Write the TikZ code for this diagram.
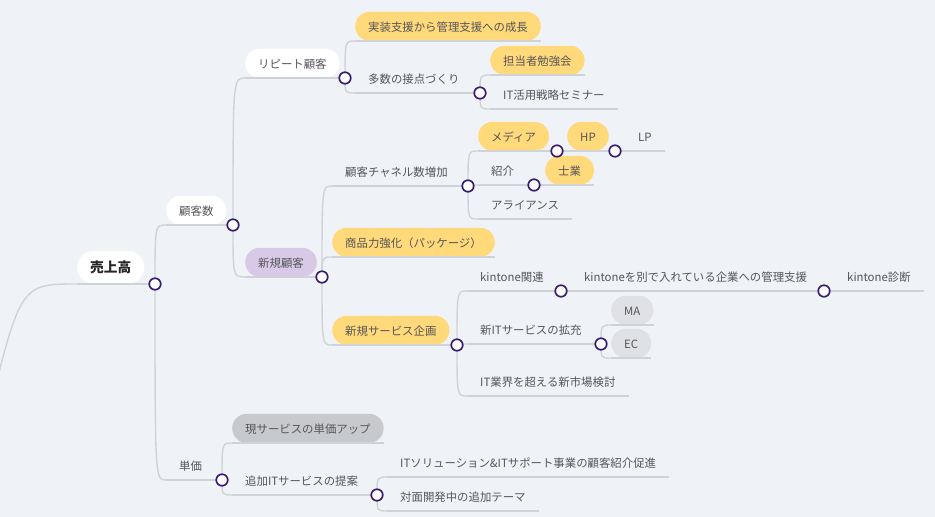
\documentclass[tikz,border=0pt]{standalone}
\usepackage{fontspec}
\usepackage{tikz}
\newfontfamily\jpfont{Noto Sans CJK JP}
\definecolor{canvas}{RGB}{239,243,248}
\definecolor{twiggray}{RGB}{207,211,216}
\definecolor{knotpurple}{RGB}{58,28,110}
\definecolor{pillyellow}{RGB}{255,217,122}
\definecolor{pilllilac}{RGB}{216,202,230}
\definecolor{pillgray}{RGB}{200,201,204}
\definecolor{pillpale}{RGB}{223,225,228}
\definecolor{inkgray}{RGB}{85,85,90}
\definecolor{inkdark}{RGB}{38,38,40}
\tikzset{
  topic/.style={anchor=south west, font=\jpfont\fontsize{11.4}{13}\selectfont,
    text=inkgray, inner xsep=13pt, inner ysep=0pt, minimum height=29pt,
    text height=11pt, text depth=1pt, rounded corners=14.5pt},
  roottopic/.style={topic, font=\jpfont\bfseries\fontsize{13.7}{16}\selectfont,
    text=inkdark, minimum height=33pt, rounded corners=16.5pt, fill=white},
  whitepill/.style={fill=white},
  yellowpill/.style={fill=pillyellow},
  lilacpill/.style={fill=pilllilac},
  graypill/.style={fill=pillgray},
  palepill/.style={fill=pillpale},
  twig/.style={draw=twiggray, line width=1.4pt},
  knot/.style={circle, draw=knotpurple, fill=white, line width=1.7pt,
    minimum size=11.5pt, inner sep=0pt}
}
\newcommand{\branch}[2]{%
  \draw[twig] (#1) .. controls (#1 |- #2.south west) .. (#2.south west);%
}
\newcommand{\underl}[2]{%
  \draw[twig] (#1.south west) -- (#2);%
}

\begin{document}
\begin{tikzpicture}[x=1pt,y=-1pt]
  \useasboundingbox (0,0) rectangle (935,517);
  \clip (0,0) rectangle (935,517);
  \fill[canvas] (0,0) rectangle (935,517);

  \node[roottopic] (uri) at (77,284) {売上高};
  \node[topic, whitepill] (kyaku) at (166,225) {顧客数};
  \node[topic] (tanka) at (166,480) {単価};
  \node[topic, whitepill] (repeat) at (245,78) {リピート顧客};
  \node[topic, lilacpill] (shinki) at (245,277) {新規顧客};
  \node[topic, yellowpill] (jisso) at (355,41) {実装支援から管理支援への成長};
  \node[topic] (setten) at (355,93) {多数の接点づくり};
  \node[topic, yellowpill] (benkyo) at (490,75) {担当者勉強会};
  \node[topic] (seminar) at (490,109) {IT活用戦略セミナー};
  \node[topic] (channel) at (332,186) {顧客チャネル数増加};
  \node[topic, yellowpill] (shohin) at (332,257) {商品力強化（パッケージ）};
  \node[topic, yellowpill] (kikaku) at (332,345) {新規サービス企画};
  \node[topic, yellowpill] (media) at (478,151) {メディア};
  \node[topic] (shokai) at (478,185) {紹介};
  \node[topic] (alliance) at (478,219) {アライアンス};
  \node[topic, yellowpill] (hp) at (567,151) {HP};
  \node[topic] (lp) at (625,151) {LP};
  \node[topic, yellowpill] (shigyo) at (545,185) {士業};
  \node[topic] (kintone) at (467,291) {kintone関連};
  \node[topic] (newit) at (467,344) {新ITサービスの拡充};
  \node[topic] (market) at (467,396) {IT業界を超える新市場検討};
  \node[topic] (kanri) at (571,291) {kintoneを別で入れている企業への管理支援};
  \node[topic] (shindan) at (834,291) {kintone診断};
  \node[topic, palepill] (ma) at (611,325) {MA};
  \node[topic, palepill] (ec) at (611,358) {EC};
  \node[topic, graypill] (genserv) at (232,443) {現サービスの単価アップ};
  \node[topic] (tsuika) at (232,495) {追加ITサービスの提案};
  \node[topic] (itsol) at (387,477) {ITソリューション\&ITサポート事業の顧客紹介促進};
  \node[topic] (taimen) at (387,511) {対面開発中の追加テーマ};

  \coordinate (trunk) at (-15,430);
  \coordinate (uri-o) at (155,284);
  \coordinate (kyaku-o) at (233,225);
  \coordinate (tanka-o) at (222,480);
  \coordinate (repeat-o) at (345,78);
  \coordinate (shinki-o) at (322,277);
  \coordinate (setten-o) at (480,93);
  \coordinate (channel-o) at (468,186);
  \coordinate (kikaku-o) at (457,345);
  \coordinate (media-o) at (557,151);
  \coordinate (shokai-o) at (534,185);
  \coordinate (hp-o) at (615,151);
  \coordinate (kintone-o) at (561,291);
  \coordinate (newit-o) at (601,344);
  \coordinate (kanri-o) at (824,291);
  \coordinate (tsuika-o) at (377,495);

  \draw[twig] (trunk) .. controls ([xshift=-57pt]uri.south west) .. (uri.south west);
  \underl{uri}{uri-o}
  \underl{kyaku}{kyaku-o}
  \underl{tanka}{tanka-o}
  \underl{repeat}{repeat-o}
  \underl{shinki}{shinki-o}
  \underl{setten}{setten-o}
  \underl{channel}{channel-o}
  \underl{kikaku}{kikaku-o}
  \underl{media}{media-o}
  \underl{shokai}{shokai-o}
  \underl{hp}{hp-o}
  \underl{kintone}{kintone-o}
  \underl{newit}{newit-o}
  \underl{kanri}{kanri-o}
  \underl{tsuika}{tsuika-o}
  \foreach \leaf in {jisso,benkyo,seminar,shohin,alliance,lp,shigyo,market,
    shindan,ma,ec,genserv,itsol,taimen}
    \draw[twig] (\leaf.south west) -- (\leaf.south east);

  \branch{uri-o}{kyaku}
  \branch{uri-o}{tanka}
  \branch{kyaku-o}{repeat}
  \branch{kyaku-o}{shinki}
  \branch{repeat-o}{jisso}
  \branch{repeat-o}{setten}
  \branch{setten-o}{benkyo}
  \branch{setten-o}{seminar}
  \branch{shinki-o}{channel}
  \branch{shinki-o}{shohin}
  \branch{shinki-o}{kikaku}
  \branch{channel-o}{media}
  \branch{channel-o}{shokai}
  \branch{channel-o}{alliance}
  \branch{media-o}{hp}
  \branch{hp-o}{lp}
  \branch{shokai-o}{shigyo}
  \branch{kikaku-o}{kintone}
  \branch{kikaku-o}{newit}
  \branch{kikaku-o}{market}
  \branch{kintone-o}{kanri}
  \branch{kanri-o}{shindan}
  \branch{newit-o}{ma}
  \branch{newit-o}{ec}
  \branch{tanka-o}{genserv}
  \branch{tanka-o}{tsuika}
  \branch{tsuika-o}{itsol}
  \branch{tsuika-o}{taimen}

  \foreach \k in {uri,kyaku,tanka,repeat,shinki,setten,channel,kikaku,
    media,shokai,hp,kintone,newit,kanri,tsuika}
    \node[knot] at (\k-o) {};
\end{tikzpicture}
\end{document}
